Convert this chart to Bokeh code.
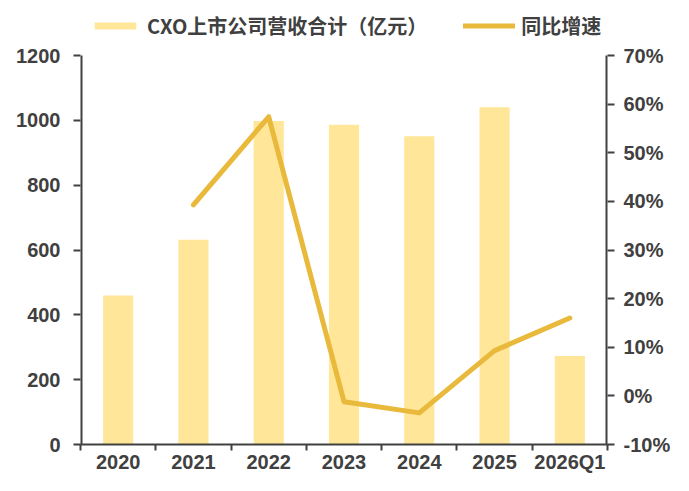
from bokeh.plotting import figure
from bokeh.models import (ColumnDataSource, LinearAxis, Range1d, FixedTicker,
                          Legend, LegendItem)
from bokeh.embed import file_html
from bokeh.resources import INLINE

categories = ["2020", "2021", "2022", "2023", "2024", "2025", "2026Q1"]
revenue = [460, 632, 998, 986, 951, 1040, 273]
growth = [float("nan"), 39.3, 57.4, -1.2, -3.5, 9.3, 16.0]
left_ticks = [0, 200, 400, 600, 800, 1000, 1200]
right_ticks = [-10, 0, 10, 20, 30, 40, 50, 60, 70]

bar_name = "CXO上市公司营收合计（亿元）"
line_name = "同比增速"

BAR_COLOR = "#FFE699"
LINE_COLOR = "#E9B93C"
AX_COLOR = "#404040"
TICK_FONT = "Liberation Sans"
LEG_FONT = "Noto Sans CJK SC"

# layout (pixels)
W, H = 673, 475
B_LEFT, B_RIGHT, B_TOP, B_BOTTOM = 80, 64, 8, 31
AXIS_TOP_PX = 55  # where the top tick sits
frame_bottom = H - B_BOTTOM
ext = (frame_bottom - B_TOP) / (frame_bottom - AXIS_TOP_PX)

y_lo, y_hi = left_ticks[0], left_ticks[-1]
r_lo, r_hi = right_ticks[0], right_ticks[-1]

xs = list(range(len(categories)))
src = ColumnDataSource(dict(x=xs, rev=revenue, g=growth))

x_range = Range1d(-0.5, len(categories) - 0.5)
p = figure(width=W, height=H, output_backend="svg", toolbar_location=None,
           x_range=x_range,
           y_range=Range1d(y_lo, y_lo + (y_hi - y_lo) * ext),
           min_border_left=B_LEFT, min_border_right=B_RIGHT, min_border_top=B_TOP,
           min_border_bottom=B_BOTTOM)
p.outline_line_color = None
p.grid.visible = False
p.background_fill_color = "white"
p.extra_y_ranges = {"pct": Range1d(r_lo, r_lo + (r_hi - r_lo) * ext)}

bars = p.vbar(x="x", top="rev", width=0.4, source=src, fill_color=BAR_COLOR,
              line_color=None)
line = p.line(x="x", y="g", source=src, y_range_name="pct", line_color=LINE_COLOR,
              line_width=5, line_cap="round", line_join="round")

# spines for the value axes, only up to the last tick
p.segment(x0=[x_range.start], y0=[y_lo], x1=[x_range.start], y1=[y_hi],
          line_color=AX_COLOR, line_width=4)
p.segment(x0=[x_range.end], y0=[r_lo], x1=[x_range.end], y1=[r_hi],
          line_color=AX_COLOR, line_width=4, y_range_name="pct")

def style_axis(ax):
    ax.axis_line_color = AX_COLOR
    ax.axis_line_width = 2
    ax.major_tick_line_color = AX_COLOR
    ax.major_tick_line_width = 2
    ax.major_tick_in = 0
    ax.major_tick_out = 7
    ax.minor_tick_line_color = None
    ax.major_label_text_font = TICK_FONT
    ax.major_label_text_font_size = "20px"
    ax.major_label_text_font_style = "bold"
    ax.major_label_text_color = AX_COLOR

# x axis: labels at centers, tick marks between categories
xa = p.xaxis[0]
style_axis(xa)
xa.ticker = FixedTicker(ticks=xs, minor_ticks=[i - 0.5 for i in range(len(categories) + 1)])
xa.major_label_overrides = {i: c for i, c in zip(xs, categories)}
xa.major_tick_line_color = None
xa.major_tick_out = 6
xa.minor_tick_line_color = AX_COLOR
xa.minor_tick_line_width = 2
xa.minor_tick_in = 0
xa.minor_tick_out = 6
xa.major_label_standoff = 0

ya = p.yaxis[0]
style_axis(ya)
ya.axis_line_color = None
ya.ticker = FixedTicker(ticks=left_ticks)
ya.major_label_standoff = 13

ra = LinearAxis(y_range_name="pct", ticker=FixedTicker(ticks=right_ticks))
style_axis(ra)
ra.axis_line_color = None
ra.major_label_overrides = {t: f"{t}%" for t in right_ticks}
ra.major_label_standoff = 9
p.add_layout(ra, "right")

legend = Legend(items=[LegendItem(label=bar_name, renderers=[bars]),
                       LegendItem(label=line_name, renderers=[line])],
                orientation="horizontal", location=(9, 404),
                label_text_font=LEG_FONT, label_text_font_size="20px",
                label_text_font_style="bold", label_text_color=AX_COLOR,
                glyph_width=52, glyph_height=9, label_standoff=6, spacing=36,
                padding=0, margin=0, border_line_color=None,
                background_fill_alpha=0)
p.add_layout(legend, "center")

open("out.html", "w").write(file_html(p, INLINE))
